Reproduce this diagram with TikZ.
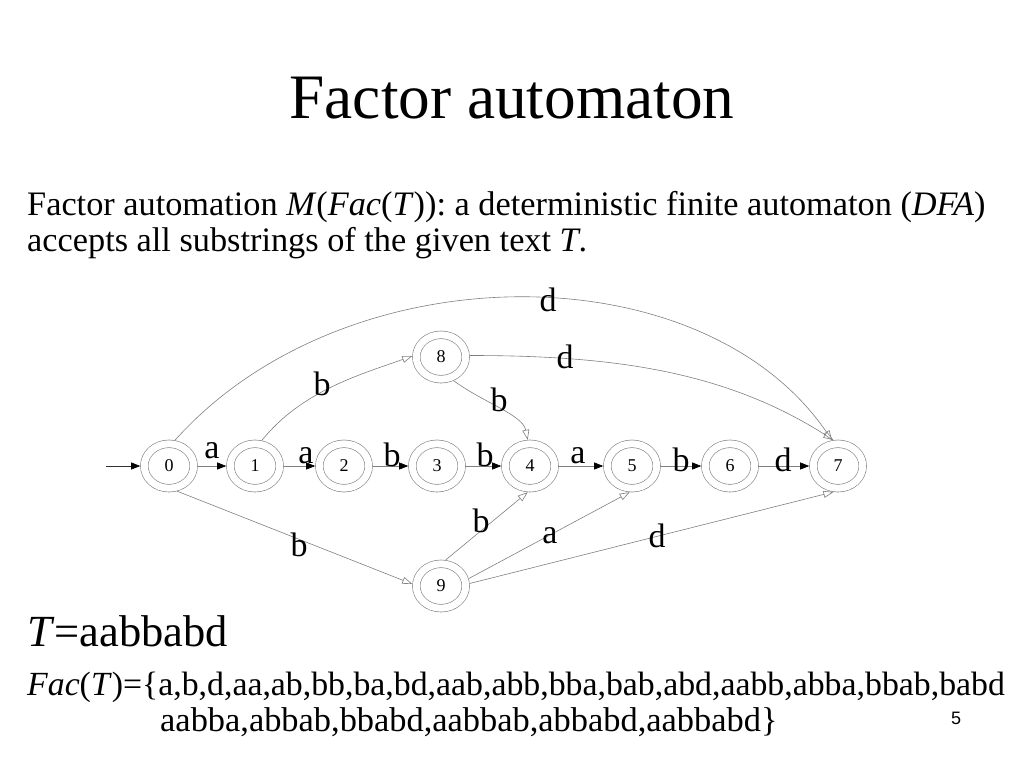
\documentclass[tikz,border=0pt]{standalone}
\usepackage{fontspec}
\setmainfont{Liberation Serif}
\newfontfamily\pagefont{Liberation Sans}
\usetikzlibrary{arrows.meta,shapes.geometric}
\definecolor{edgegray}{RGB}{128,128,128}
\begin{document}
\begin{tikzpicture}[x=1pt,y=-1pt,
  state/.style={ellipse, draw=edgegray, double=white, double distance=7pt, line width=0.6pt,
    minimum width=49.4pt, minimum height=44.4pt, inner sep=0pt, outer sep=4.1pt,
    font=\fontsize{18}{18}\selectfont},
  hedge/.style={draw=edgegray, line width=0.6pt, -{Triangle[length=9pt,width=7pt,color=black]}},
  initedge/.style={draw=black!80, line width=0.6pt, -{Triangle[length=9pt,width=7pt,color=black]}},
  gedge/.style={draw=edgegray, line width=0.6pt, -{Triangle[open,length=10pt,width=7pt]}},
  lbl/.style={font=\fontsize{34}{34}\selectfont, inner sep=0pt},
  txt/.style={anchor=base west, inner sep=0pt, font=\fontsize{34.3}{34.3}\selectfont}]
\path[use as bounding box, fill=white] (0,0) rectangle (1024,768);

% title and text
\node[anchor=base, inner sep=0pt, font=\fontsize{63.3}{63.3}\selectfont] (title) at (512,118) {Factor automaton};
\node[txt] (desc1) at (27,215) {Factor automation \textit{M}(\textit{Fac}(\textit{T})): a deterministic finite automaton (\textit{DFA})};
\node[txt] (desc2) at (27,251) {accepts all substrings of the given text \textit{T}.};
\node[txt, font=\fontsize{44.5}{44.5}\selectfont] (tdef) at (27,646) {\textit{T}=aabbabd};
\node[txt, font=\fontsize{33.8}{33.8}\selectfont] (fac1) at (27,695) {\textit{Fac}(\textit{T})=\{a,b,d,aa,ab,bb,ba,bd,aab,abb,bba,bab,abd,aabb,abba,bbab,babd};
\node[txt, font=\fontsize{34.4}{34.4}\selectfont] (fac2) at (160,731) {aabba,abbab,bbabd,aabbab,abbabd,aabbabd\}};
\node[inner sep=0pt, font=\pagefont\fontsize{18}{18}\selectfont] (pg) at (956,718) {5};

% states
\node[state] (n0) at (169,466) {0};
\node[state] (n1) at (255,466) {1};
\node[state] (n2) at (344,466) {2};
\node[state] (n3) at (437,466) {3};
\node[state] (n4) at (530,466) {4};
\node[state] (n5) at (632,466) {\raisebox{-4pt}{5}};
\node[state] (n6) at (730,466) {6};
\node[state] (n7) at (838,466) {7};
\node[state] (n8) at (441,357) {8};
\node[state] (n9) at (441,586) {9};

% initial arrow
\coordinate (init) at (106,466);
\draw[initedge] (init) -- (n0);

% main chain
\draw[hedge] (n0) -- (n1);
\draw[hedge] (n1) -- (n2);
\draw[hedge] (n2) -- (n3);
\draw[hedge] (n3) -- (n4);
\draw[hedge] (n4) -- (n5);
\draw[hedge] (n5) -- (n6);
\draw[hedge] (n6) -- (n7);

% other transitions
\draw[gedge] (n0.77) .. controls +(170,-190) and +(-130,-190) .. (n7.103);
\draw[gedge] (n1.75) .. controls +(40,-50) and +(-50,18) .. (n8.178);
\draw[gedge] (n8.3) .. controls +(140,0) and +(-110,-70) .. (n7.100);
\draw[gedge] (n8.-62) .. controls +(30,22) and +(-5,-25) .. (n4.95);
\draw[gedge] (n0.-72) -- (n9.176);
\draw[gedge] (n9.80) -- (n4.-95);
\draw[gedge] (n9.15) -- (n5.-95);
\draw[gedge] (n9.5) -- (n7.-100);

% labels
\node[lbl] (l01) at (212,451) {a};
\node[lbl] (l12) at (306,456) {a};
\node[lbl] (l23) at (392,455) {b};
\node[lbl] (l34) at (485,455) {b};
\node[lbl] (l45) at (578,456) {a};
\node[lbl] (l56) at (681,460) {b};
\node[lbl] (l67) at (783,460) {d};
\node[lbl] (l07) at (548,300) {d};
\node[lbl] (l87) at (565,357) {d};
\node[lbl] (l18) at (322,384) {b};
\node[lbl] (l84) at (499,400) {b};
\node[lbl] (l09) at (299,545) {b};
\node[lbl] (l94) at (481,521) {b};
\node[lbl] (l95) at (550,536) {a};
\node[lbl] (l97) at (657,536) {d};
\end{tikzpicture}
\end{document}
